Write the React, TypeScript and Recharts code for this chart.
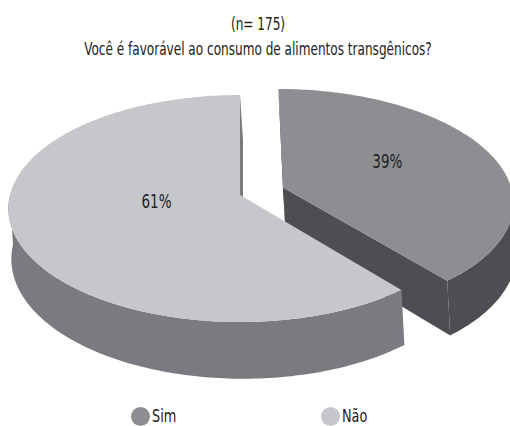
import { PieChart, Pie, Cell, Legend } from "recharts";

const categories = ["Sim", "Não"];
const percentages = [39, 61];
const sampleLabel = "(n= 175)";
const question = "Você é favorável ao consumo de alimentos transgênicos?";

const TOP_COLORS = ["#8d8e92", "#c6c7cb"];
const SIDE_COLORS = ["#4d4e52", "#7a7b80"];
// how far each slice is pulled out of the pie, as a fraction of the radius
const EXPLODE = [0.2, 0];
const LABEL_R = [0.5, 0.38];
const FONT = '"DejaVu Sans Condensed", "Liberation Sans", sans-serif';
const NARROW = 0.79;

// fake perspective: near edge bigger than far edge
const PERSP = 0.119;
const TILT = 0.4865;
const DEPTH = 50;
const SKEW = 3;

const data = categories.map((name, i) => ({ name, value: percentages[i] }));

const rad = (a: number) => (a * Math.PI) / 180;

function project(cx: number, cy: number, r: number, ux: number, uy: number, h: number) {
  const w = 1 + PERSP * uy;
  return [cx + (r * ux) / w + h * SKEW, cy - (r * TILT * uy) / w + (h * DEPTH) / w];
}

function arc(cx: number, cy: number, r: number, ox: number, oy: number, a0: number, a1: number, h: number) {
  const n = Math.max(2, Math.ceil(Math.abs(a1 - a0)));
  const pts: number[][] = [];
  for (let i = 0; i <= n; i++) {
    const a = rad(a0 + ((a1 - a0) * i) / n);
    pts.push(project(cx, cy, r, ox + Math.cos(a), oy + Math.sin(a), h));
  }
  return pts;
}

const toPath = (pts: number[][]) =>
  "M" + pts.map((p) => `${p[0].toFixed(2)},${p[1].toFixed(2)}`).join("L") + "Z";

function Slice3D(props: any) {
  const { cx, cy, outerRadius, startAngle, endAngle, midAngle, index, fill } = props;
  const e = EXPLODE[index] || 0;
  const ox = e * Math.cos(rad(midAngle));
  const oy = e * Math.sin(rad(midAngle));
  const lo = Math.min(startAngle, endAngle);
  const hi = Math.max(startAngle, endAngle);
  const side = SIDE_COLORS[index];
  const c0 = project(cx, cy, outerRadius, ox, oy, 0);
  const c1 = project(cx, cy, outerRadius, ox, oy, 1);

  const walls: string[] = [];
  for (let k = -3; k <= 2; k++) {
    const a = Math.max(lo, 180 + 360 * k);
    const b = Math.min(hi, 360 + 360 * k);
    if (b > a) {
      const top = arc(cx, cy, outerRadius, ox, oy, a, b, 0);
      const bot = arc(cx, cy, outerRadius, ox, oy, b, a, 1);
      walls.push(toPath([...top, ...bot]));
    }
  }

  const faces: string[] = [];
  [
    [lo, lo - 90],
    [hi, hi + 90],
  ].forEach(([edge, normal]) => {
    if (Math.sin(rad(normal)) < 0.01) {
      const t = project(cx, cy, outerRadius, ox + Math.cos(rad(edge)), oy + Math.sin(rad(edge)), 0);
      const b = project(cx, cy, outerRadius, ox + Math.cos(rad(edge)), oy + Math.sin(rad(edge)), 1);
      faces.push(toPath([c0, t, b, c1]));
    }
  });

  const top = toPath([c0, ...arc(cx, cy, outerRadius, ox, oy, startAngle, endAngle, 0)]);

  return (
    <g>
      {walls.map((d, i) => (
        <path key={"w" + i} d={d} fill={side} />
      ))}
      {faces.map((d, i) => (
        <path key={"f" + i} d={d} fill={side} />
      ))}
      <path d={top} fill={fill} />
    </g>
  );
}

function renderLabel(props: any) {
  const { cx, cy, midAngle, outerRadius, percent, index } = props;
  const f = LABEL_R[index] + (EXPLODE[index] || 0);
  const [x, y] = project(cx, cy, outerRadius, f * Math.cos(rad(midAngle)), f * Math.sin(rad(midAngle)), 0);
  return (
    <text
      transform={`translate(${x},${y - 8}) scale(${NARROW},1)`}
      textAnchor="middle"
      dominantBaseline="central"
      fontSize={19}
      fontFamily={FONT}
      fill="#222"
    >
      {`${Math.round(percent * 100)}%`}
    </text>
  );
}

const LEGEND_X = [131, 321];

function renderLegend(props: any) {
  const { payload } = props;
  return (
    <div style={{ position: "relative", height: 26, fontFamily: FONT, fontSize: 17, color: "#222" }}>
      {(payload || []).map((entry: any) => {
        const i = categories.indexOf(entry.value);
        return (
          <div key={entry.value} style={{ position: "absolute", left: LEGEND_X[i], top: 0, display: "flex", alignItems: "center" }}>
            <span style={{ width: 19, height: 19, borderRadius: "50%", background: TOP_COLORS[i], display: "inline-block" }} />
            <span style={{ display: "inline-block", transform: `scaleX(${NARROW + 0.05})`, transformOrigin: "left center", marginLeft: 2 }}>
              {entry.value}
            </span>
          </div>
        );
      })}
    </div>
  );
}

const titleStyle = {
  position: "absolute" as const,
  left: 258,
  transform: `translateX(-50%) scaleX(${NARROW})`,
  whiteSpace: "nowrap" as const,
  fontSize: 17,
  color: "#222",
};

export default function App() {
  return (
    <div style={{ position: "absolute", left: 0, top: 0, width: 510, height: 426, background: "#fff", fontFamily: FONT }}>
      <div style={{ ...titleStyle, top: 14 }}>{sampleLabel}</div>
      <div style={{ ...titleStyle, top: 39 }}>{question}</div>
      <PieChart width={510} height={426} margin={{ top: 0, right: 0, bottom: 0, left: 0 }}>
        <Pie
          data={data}
          dataKey="value"
          nameKey="name"
          cx={240}
          cy={195}
          outerRadius={230}
          startAngle={90}
          endAngle={-270}
          stroke="none"
          label={renderLabel}
          labelLine={false}
          shape={Slice3D}
          activeShape={Slice3D}
          inactiveShape={Slice3D}
          isAnimationActive={false}
        >
          {data.map((d, i) => (
            <Cell key={d.name} fill={TOP_COLORS[i]} />
          ))}
        </Pie>
        <Legend content={renderLegend} wrapperStyle={{ left: 0, top: 406, width: 510 }} />
      </PieChart>
    </div>
  );
}
